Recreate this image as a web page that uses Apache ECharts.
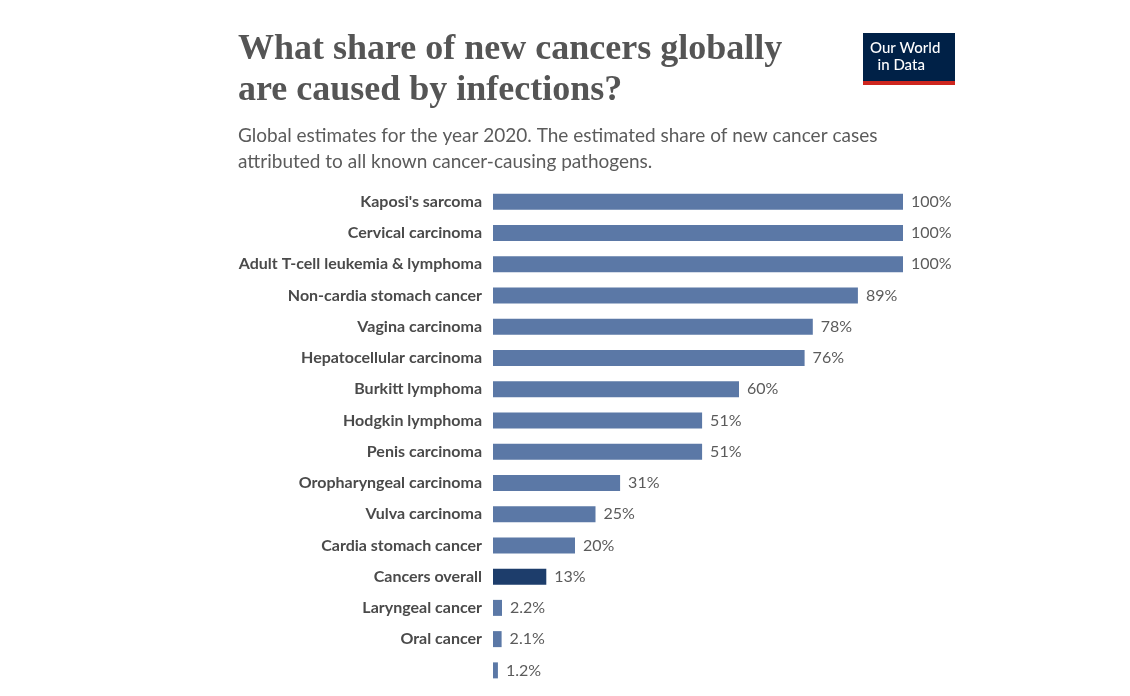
<!DOCTYPE html>
<html>
<head>
<meta charset="utf-8">
<script src="https://cdn.jsdelivr.net/npm/echarts@6/dist/echarts.min.js"></script>
<style>
  html, body { margin: 0; padding: 0; background: #fff; }
  #chart { width: 1130px; height: 696px; }
</style>
</head>
<body>
<div id="chart"></div>
<script>
const categories = ["Kaposi's sarcoma", "Cervical carcinoma", "Adult T-cell leukemia & lymphoma",
  "Non-cardia stomach cancer", "Vagina carcinoma", "Hepatocellular carcinoma", "Burkitt lymphoma",
  "Hodgkin lymphoma", "Penis carcinoma", "Oropharyngeal carcinoma", "Vulva carcinoma",
  "Cardia stomach cancer", "Cancers overall", "Laryngeal cancer", "Oral cancer", ""];
const values = [100, 100, 100, 89, 78, 76, 60, 51, 51, 31, 25, 20, 13, 2.2, 2.1, 1.2];
const highlight = "Cancers overall";

let chart = echarts.init(document.getElementById("chart"), null, { renderer: 'canvas' });

let option = {
  backgroundColor: '#fff',
  animation: false,
  title: [
    {
      text: 'What share of new cancers globally\nare caused by infections?',
      left: 233, top: 24,
      textStyle: { fontFamily: 'Liberation Serif', fontWeight: 'bold', fontSize: 36, lineHeight: 41, color: '#555' }
    },
    {
      text: 'Global estimates for the year 2020. The estimated share of new cancer cases\nattributed to all known cancer-causing pathogens.',
      left: 233, top: 118,
      textStyle: { fontFamily: 'Lato', fontWeight: 'normal', fontSize: 19, lineHeight: 26, color: '#5b5b5b' }
    }
  ],
  graphic: [
    { type: 'rect', left: 863, top: 33, shape: { width: 92, height: 48 }, style: { fill: '#002147' } },
    { type: 'rect', left: 863, top: 81, shape: { width: 92, height: 4 }, style: { fill: '#ce261e' } },
    { type: 'text', left: 870, top: 40, style: { text: 'Our World\n  in Data', fill: '#fff', font: '500 15px Lato', lineHeight: 17 } }
  ],
  grid: { left: 493, width: 410, top: 186, height: 500 },
  xAxis: { type: 'value', min: 0, max: 100, show: false },
  yAxis: {
    type: 'category', inverse: true, data: categories,
    axisLine: { show: false }, axisTick: { show: false },
    axisLabel: { fontFamily: 'Lato', fontWeight: 'bold', fontSize: 16, color: '#4a4a4a', margin: 11 }
  },
  series: [{
    type: 'bar', barWidth: 16,
    data: values.map((v, i) => ({
      value: v,
      itemStyle: { color: categories[i] === highlight ? '#1d3d6b' : '#5b78a6' }
    })),
    label: {
      show: true, position: 'right', distance: 8,
      fontFamily: 'Lato', fontSize: 16, color: '#5b5b5b',
      formatter: p => p.value + '%'
    }
  }]
};

chart.setOption(option);
window.addEventListener('resize', chart.resize);
</script>
</body>
</html>
